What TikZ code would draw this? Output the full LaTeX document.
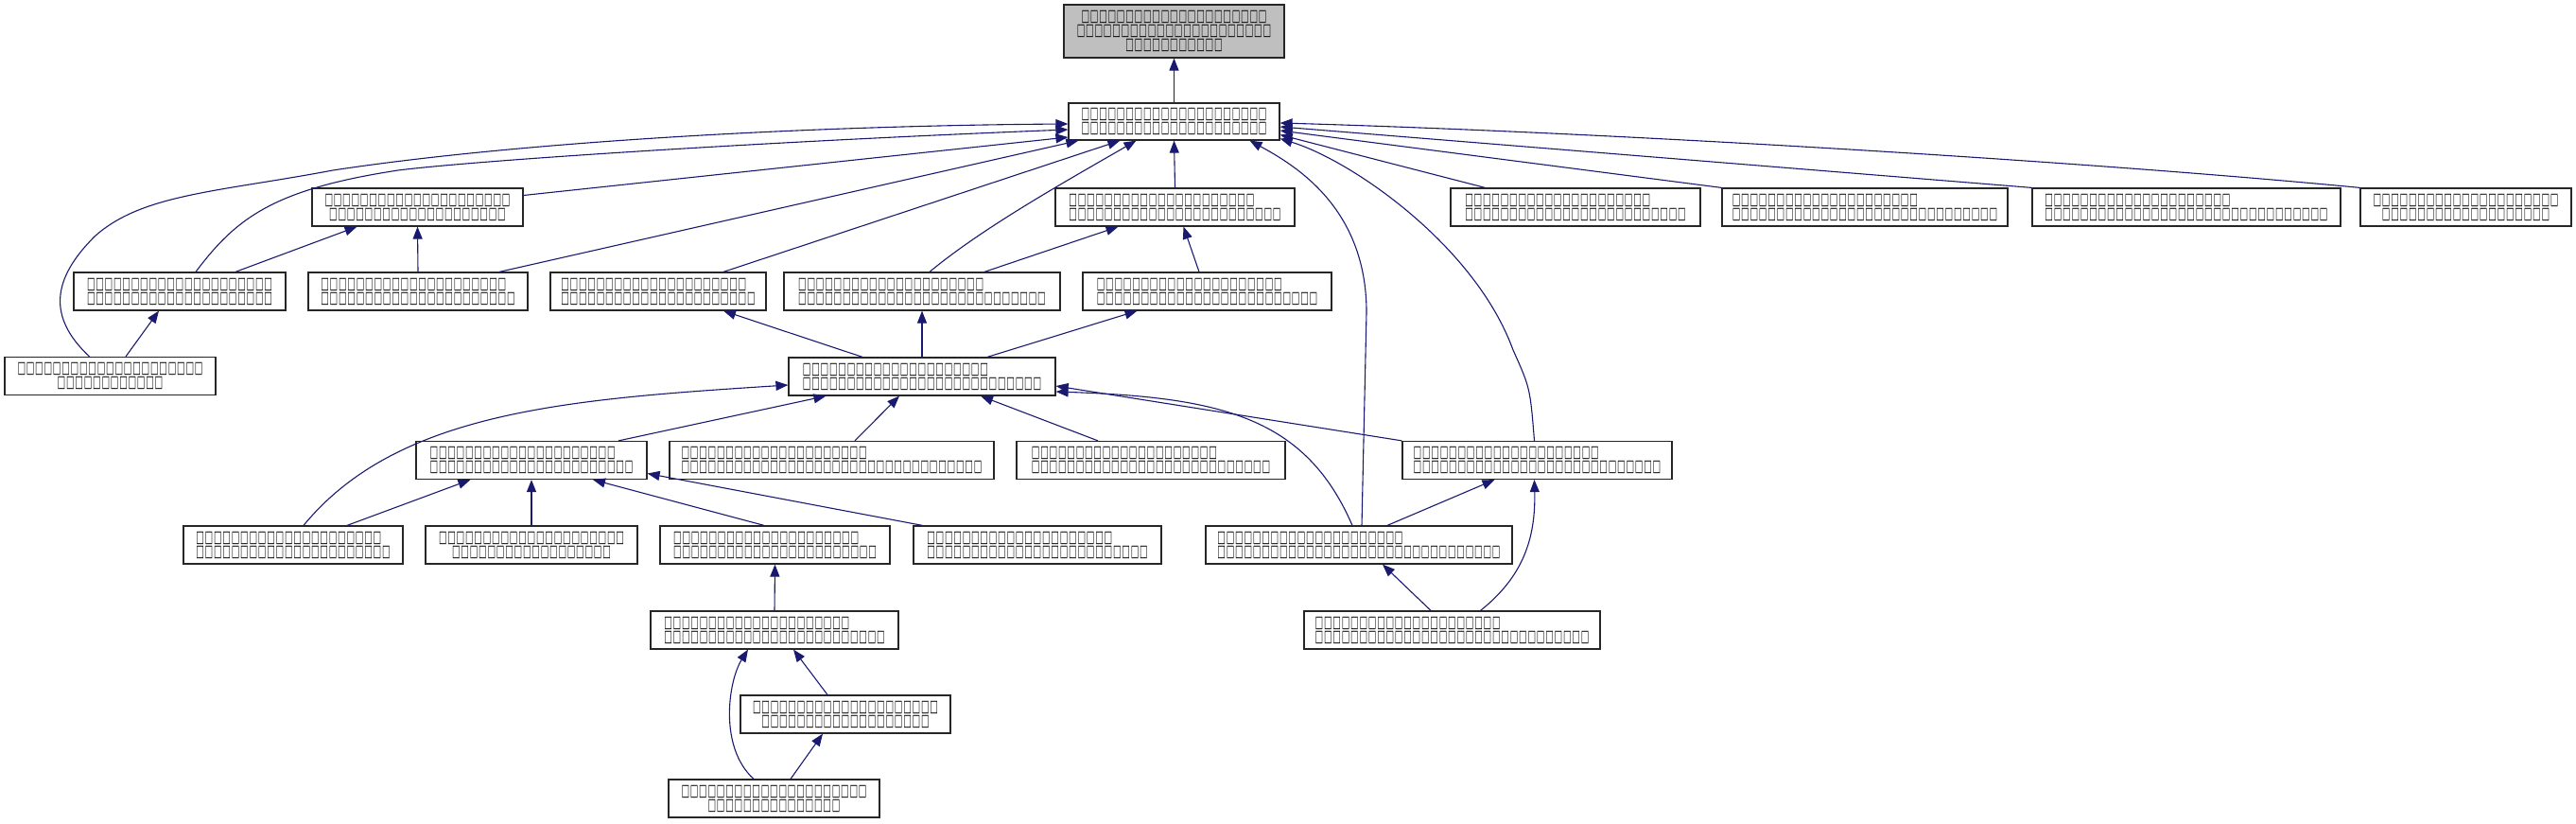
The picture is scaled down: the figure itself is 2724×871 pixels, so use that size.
\documentclass[tikz,border=0pt]{standalone}
\usepackage{fontspec}
\usepackage{graphicx}
\usetikzlibrary{arrows.meta,calc}
\newfontfamily\tofufont{DejaVu Sans}
\definecolor{edgeblue}{HTML}{191970}
\definecolor{rootgray}{HTML}{BFBFBF}
\newcount\tofucnt
\newcommand\tofuglyph{\makebox[4.685pt][c]{\resizebox{4.3pt}{5.6pt}{\tofufont\bfseries □}}}
\newcommand\tofus[1]{\tofucnt=#1\relax\loop\ifnum\tofucnt>0 \tofuglyph\advance\tofucnt by -1\relax\repeat}
\begin{document}
\begin{tikzpicture}[x=0.5pt,y=-0.5pt,
  box/.style={draw=black!85, line width=0.6pt, inner sep=0pt, minimum height=20pt, font=\fontsize{6}{7.5}\selectfont, align=left},
  cbox/.style={box, align=center},
  edge/.style={draw=edgeblue, line width=0.55pt, {Triangle[length=6.5pt,width=5pt]}-}]
\useasboundingbox (0,0) rectangle (2724,871);
% nodes
\node[cbox, minimum width=116.5pt, minimum height=28pt, fill=rootgray] (top) at (1241.5,33) {\tofus{21}\\\tofus{22}\\\tofus{11}};
\node[cbox, minimum width=111.5pt, minimum height=19.5pt] (N1) at (1241.5,128.5) {\tofus{21}\\\tofus{21}};
\node[cbox, minimum width=111.5pt] (A) at (441.5,219) {\tofus{21}\\\tofus{20}};
\node[box, minimum width=126.5pt] (B) at (1242.5,219) {\tofus{21}\\\tofus{24}};
\node[box, minimum width=132pt] (C) at (1666,219) {\tofus{21}\\\tofus{25}};
\node[box, minimum width=151pt] (D) at (1972,219) {\tofus{21}\\\tofus{30}};
\node[box, minimum width=163pt] (E) at (2312,219) {\tofus{21}\\\tofus{32}};
\node[cbox, minimum width=111.5pt] (F) at (2607.5,219) {\tofus{21}\\\tofus{19}};
\node[cbox, minimum width=112pt] (G) at (190,308) {\tofus{21}\\\tofus{21}};
\node[box, minimum width=116pt] (H) at (442,308) {\tofus{21}\\\tofus{22}};
\node[box, minimum width=114pt] (I) at (696,308) {\tofus{21}\\\tofus{22}};
\node[box, minimum width=146pt] (J) at (975,308) {\tofus{21}\\\tofus{28}};
\node[box, minimum width=131.5pt] (K) at (1276.5,308) {\tofus{21}\\\tofus{25}};
\node[cbox, minimum width=111.5pt] (L) at (116.5,397.5) {\tofus{21}\\\tofus{12}};
\node[box, minimum width=141pt] (M) at (975,398) {\tofus{21}\\\tofus{27}};
\node[box, minimum width=122pt] (N) at (562,486.5) {\tofus{21}\\\tofus{23}};
\node[box, minimum width=171.5pt] (O) at (879.5,486.5) {\tofus{21}\\\tofus{34}};
\node[box, minimum width=142pt] (P) at (1217,486.5) {\tofus{21}\\\tofus{27}};
\node[box, minimum width=142.5pt] (Q) at (1625.5,486.5) {\tofus{21}\\\tofus{28}};
\node[box, minimum width=116pt] (R) at (310,576) {\tofus{21}\\\tofus{22}};
\node[cbox, minimum width=112pt] (S) at (562,576) {\tofus{21}\\\tofus{18}};
\node[box, minimum width=121.5pt] (T) at (819.5,576) {\tofus{21}\\\tofus{23}};
\node[box, minimum width=131pt] (U) at (1097,576) {\tofus{21}\\\tofus{25}};
\node[box, minimum width=162pt] (V) at (1437,576) {\tofus{21}\\\tofus{32}};
\node[box, minimum width=131pt] (W) at (819,666) {\tofus{21}\\\tofus{25}};
\node[box, minimum width=156.5pt] (X) at (1535.5,666) {\tofus{21}\\\tofus{31}};
\node[cbox, minimum width=111pt] (Y) at (894,755) {\tofus{21}\\\tofus{19}};
\node[cbox, minimum width=111.5pt] (Z) at (818.5,844) {\tofus{21}\\\tofus{15}};
% edges (arrow at parent)
\draw[edge] (top.south) -- (N1.north);
\draw[edge] ($(N1.west)+(0,2.5)$) .. controls (850,133) and (550,150) .. (352,180) .. controls (230,203) and (150,205) .. (100,250) .. controls (55,295) and (50,335) .. ($(L.north)+(-22,0)$);
\draw[edge] ($(N1.west)+(0,8.5)$) .. controls (800,150) and (500,170) .. (421,180) .. controls (290,200) and (250,230) .. ($(G.north)+(17,0)$);
\draw[edge] ($(N1.west)+(0,16.5)$) -- ($(A.east)+(0,-12.5)$);
\draw[edge] ($(N1.south west)+(11,0)$) -- ($(H.north)+(86,0)$);
\draw[edge] ($(N1.south west)+(55,0)$) -- ($(I.north)+(69,0)$);
\draw[edge] ($(N1.south)+(-40,0)$) .. controls (1130,190) and (1040,240) .. ($(J.north)+(8,0)$);
\draw[edge] (N1.south) -- (B.north);
\draw[edge] ($(N1.south)+(80,0)$) .. controls (1370,175) and (1445,220) .. (1445,330) -- ($(V.north)+(3,0)$);
\draw[edge] ($(N1.east)+(0,18)$) .. controls (1430,170) and (1560,260) .. (1600,370) .. controls (1618,410) .. ($(Q.north)+(-3,0)$);
\draw[edge] ($(N1.east)+(0,14)$) -- ($(C.north west)+(37,0)$);
\draw[edge] ($(N1.east)+(0,9.5)$) -- (D.north west);
\draw[edge] ($(N1.east)+(0,5.5)$) -- (E.north west);
\draw[edge] ($(N1.east)+(0,1.5)$) .. controls (1700,140) and (2200,170) .. (F.north west);
% into A, B, G
\draw[edge] ($(A.south)+(-64,0)$) -- ($(G.north)+(59,0)$);
\draw[edge] (A.south) -- (H.north);
\draw[edge] ($(B.south)+(-60,0)$) -- ($(J.north)+(66,0)$);
\draw[edge] ($(B.south)+(9,0)$) -- ($(K.north)+(-8.5,0)$);
\draw[edge] ($(G.south)+(-22,0)$) -- ($(L.north)+(16.5,0)$);
% into I, J, K from M
\draw[edge] ($(I.south)+(69,0)$) -- ($(M.north)+(-63,0)$);
\draw[edge] (J.south) -- (M.north);
\draw[edge] ($(K.south)+(-74,0)$) -- ($(M.north)+(69,0)$);
% into M
\draw[edge] ($(M.south west)+(40,0)$) -- ($(N.north)+(92,0)$);
\draw[edge] ($(M.south)+(-24,0)$) -- ($(O.north)+(24.5,0)$);
\draw[edge] ($(M.south)+(62,0)$) -- ($(P.north)+(-56,0)$);
\draw[edge] ($(M.east)+(0,10)$) -- (Q.north west);
\draw[edge] ($(M.east)+(0,16)$) .. controls (1290,420) and (1380,440) .. ($(V.north)+(-7,0)$);
\draw[edge] ($(M.west)+(0,9)$) .. controls (600,422) and (420,435) .. ($(R.north)+(11,0)$);
% into N
\draw[edge] ($(N.south west)+(58,0)$) -- ($(R.north)+(57,0)$);
\draw[edge] (N.south) -- (S.north);
\draw[edge] ($(N.south)+(65,0)$) -- ($(T.north)+(-11.5,0)$);
\draw[edge] ($(N.east)+(0,14)$) -- ($(U.north west)+(10,0)$);
% lower part
\draw[edge] (T.south) -- (W.north);
\draw[edge] ($(W.south)+(20,0)$) -- ($(Y.north)+(-19,0)$);
\draw[edge] ($(W.south)+(-28,0)$) .. controls (770,720) and (760,790) .. ($(Z.north)+(-21.5,0)$);
\draw[edge] ($(Y.south)+(-24,0)$) -- ($(Z.north)+(17.5,0)$);
\draw[edge] ($(Q.south)+(-45,0)$) -- ($(V.north)+(30,0)$);
\draw[edge] ($(Q.south)+(-3,0)$) .. controls (1624,570) and (1610,610) .. ($(X.north)+(30,0)$);
\draw[edge] ($(V.south)+(25,0)$) -- ($(X.north)+(-22.5,0)$);
\end{tikzpicture}
\end{document}
